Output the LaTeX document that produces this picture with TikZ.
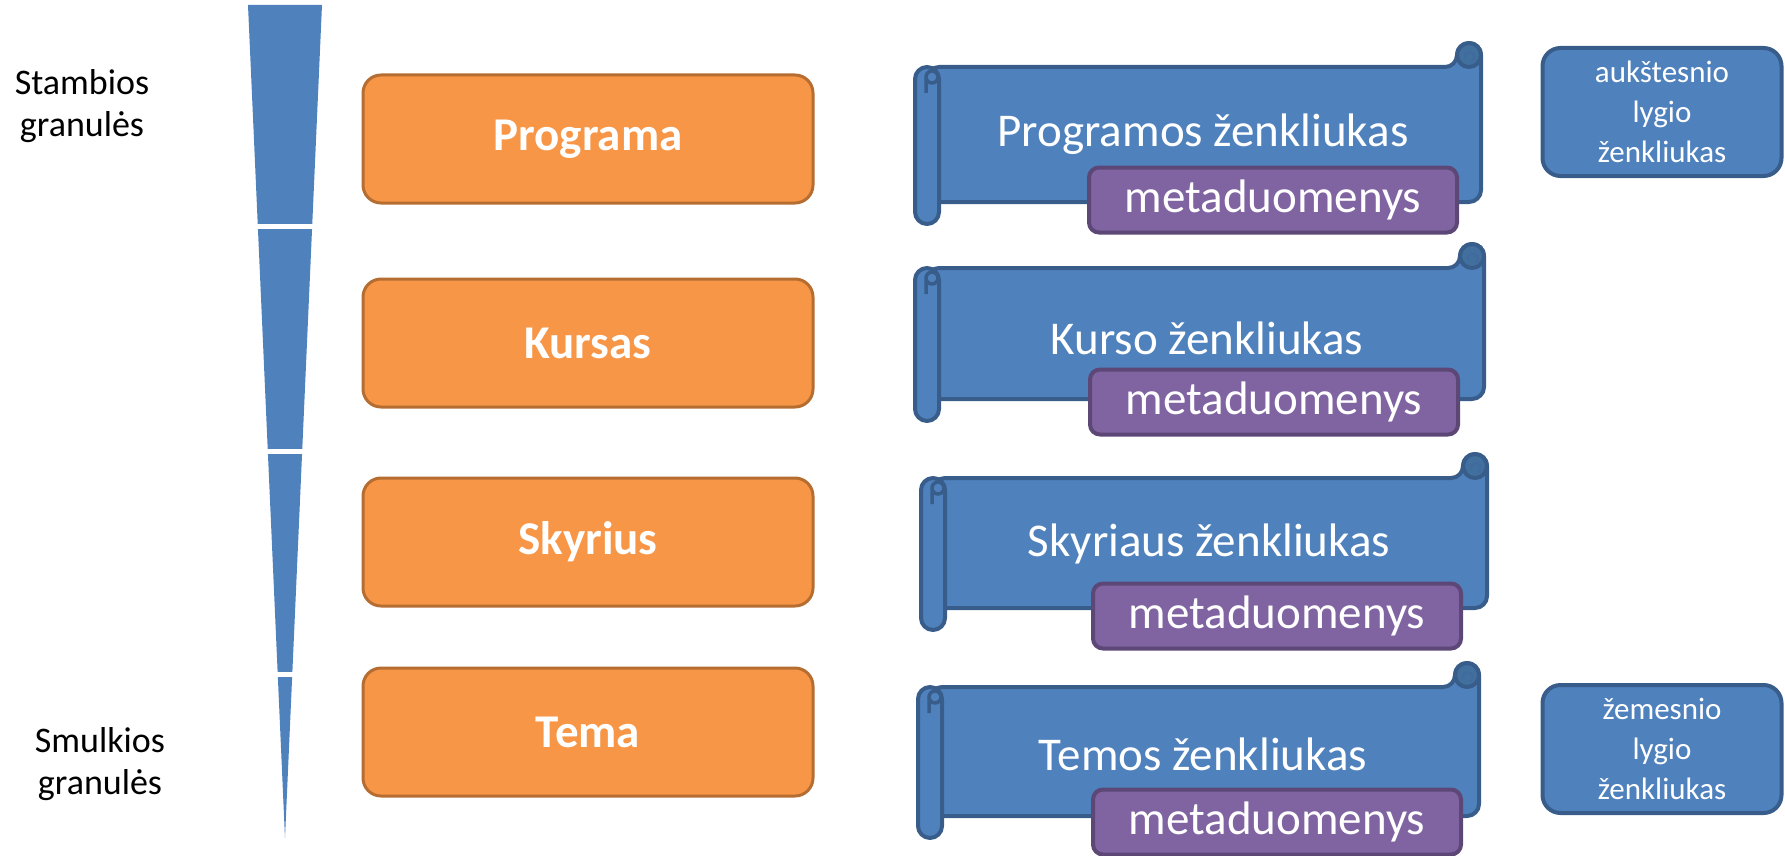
\documentclass[tikz,border=0pt]{standalone}
\usepackage{fontspec}
\setmainfont{Carlito}
\usepackage{tikz}
\usetikzlibrary{positioning}
\definecolor{BadgeBlue}{HTML}{4F81BD}
\definecolor{BadgeLine}{HTML}{385D8A}
\definecolor{BadgeDark}{HTML}{41709F}
\definecolor{LevelOrange}{HTML}{F79646}
\definecolor{LevelLine}{HTML}{B66D31}
\definecolor{MetaPurple}{HTML}{8064A2}
\definecolor{MetaLine}{HTML}{5C4776}

\tikzset{
  level/.style={draw=LevelLine,line width=3pt,fill=LevelOrange,rounded corners=18pt,
    minimum width=450pt,minimum height=128pt,text=white,font=\fontsize{47}{56}\selectfont\bfseries},
  badge/.style={text=white,font=\fontsize{47}{56}\selectfont},
  meta/.style={draw=MetaLine,line width=4pt,fill=MetaPurple,rounded corners=10pt,
    minimum width=368pt,minimum height=65pt,inner sep=0pt,text=white,font=\fontsize{47}{56}\selectfont},
  side/.style={draw=BadgeLine,line width=4pt,fill=BadgeBlue,rounded corners=18pt,
    minimum width=239pt,minimum height=128pt,align=center,text=white,font=\fontsize{31}{40}\selectfont},
  grain/.style={align=center,font=\fontsize{36}{42}\selectfont},
  scrollline/.style={draw=BadgeLine,line width=4pt,fill=BadgeBlue,line join=round},
}

% scroll banner: left, top, right, bottom (image pixels)
\newcommand{\scrollshape}[4]{%
  \path[scrollline,rounded corners=12pt] ({#1+12},{#2+24}) -- ({#3-24},{#2+24}) -- ({#3-24},{#2}) -- ({#3},{#2}) -- ({#3},{#4-22}) -- ({#1+12},{#4-22}) -- cycle;
  \path[scrollline,fill=BadgeDark] ({#3-12},{#2+12}) circle[radius=12pt];
  \draw[BadgeLine!60!BadgeBlue,line width=2.5pt] ({#3-16},{#2+16}) arc[start angle=200,end angle=-60,radius=5pt];
  \path[scrollline,rounded corners=12pt] ({#1},{#2+24}) rectangle ({#1+24},{#4});
  \draw[BadgeLine,line width=3.5pt] ({#1+17},{#2+34}) circle[radius=6pt] ({#1+11},{#2+34}) -- ({#1+11},{#2+50});
}

\begin{document}
\begin{tikzpicture}[x=1pt,y=-1pt]
  \useasboundingbox (0,0) rectangle (1785,856);

  % granularity wedge
  \fill[BadgeBlue] (248,5) -- (322,5) -- (285,838) -- cycle;
  \foreach \y in {226.5,451.5,674.5}
    \draw[white,line width=5pt] (230,\y) -- (340,\y);

  \node[grain] (coarse) at (82,106) {Stambios\\granulės};
  \node[grain] (fine) at (100,764) {Smulkios\\granulės};

  % levels
  \node[level] (prog) at (588,139) {Programa};
  \node[level] (kurs) at (588,343) {Kursas};
  \node[level] (skyr) at (588,542) {Skyrius};
  \node[level] (tema) at (588,732) {Tema};

  % badges
  \scrollshape{915}{43}{1481}{224}
  \node[badge] (progbadge) at (1203,134) {Programos ženkliukas};
  \node[meta] (progmeta) at (1273,200) {metaduomenys};

  \scrollshape{915}{244}{1484}{421}
  \node[badge] (kursbadge) at (1207,338) {Kurso ženkliukas};
  \node[meta] (kursmeta) at (1274,402) {metaduomenys};

  \scrollshape{921}{454}{1487}{630}
  \node[badge] (skyrbadge) at (1209,544) {Skyriaus ženkliukas};
  \node[meta] (skyrmeta) at (1277,616) {metaduomenys};

  \scrollshape{918}{663}{1479}{838}
  \node[badge] (temabadge) at (1203,754) {Temos ženkliukas};
  \node[meta] (temameta) at (1277,822) {metaduomenys};

  \node[side] (upper) at (1662,112) {aukštesnio\\lygio\\ženkliukas};
  \node[side] (lower) at (1662,749) {žemesnio\\lygio\\ženkliukas};
\end{tikzpicture}
\end{document}
